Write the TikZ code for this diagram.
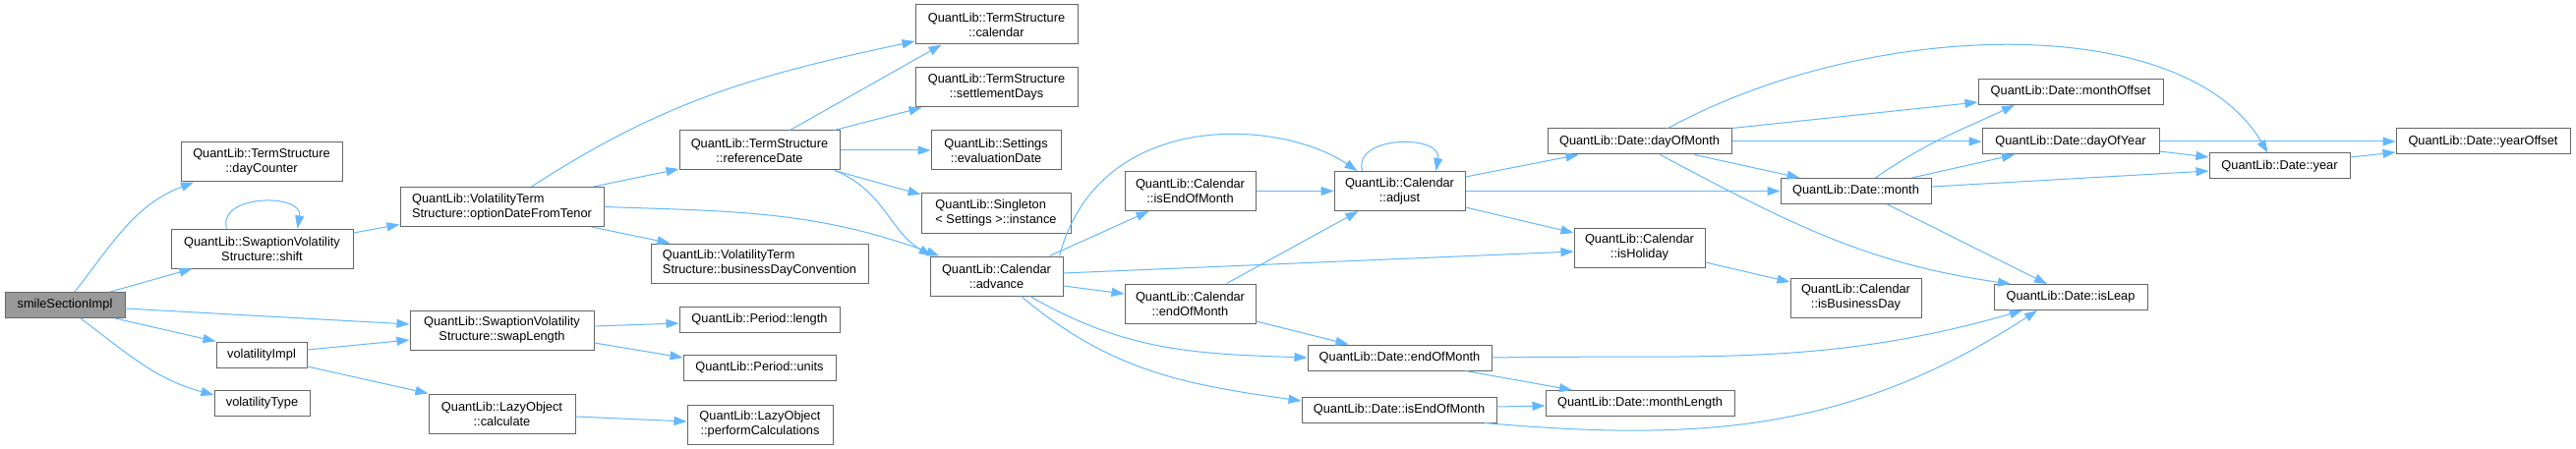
\documentclass[tikz,border=0pt]{standalone}
\usepackage{fontspec}
\setmainfont{Liberation Sans}
\usetikzlibrary{calc,arrows.meta}
\definecolor{callblue}{HTML}{63B8FF}
\definecolor{boxgray}{HTML}{666666}
\definecolor{rootgray}{HTML}{999999}

\begin{document}
\begin{tikzpicture}[x=1pt,y=-1pt,font=\fontsize{12.8}{15}\selectfont,
  fn/.style={draw=boxgray,fill=white,line width=1pt,inner sep=0pt,align=center,minimum height=40},
  fnone/.style={fn,minimum height=26},
  rootbox/.style={fnone,fill=rootgray},
  call/.style={draw=callblue,line width=1pt,-{Triangle[length=13pt,width=9pt]}}]
\fill[white] (0,0) rectangle (2620,457);
\useasboundingbox (0,0) rectangle (2620,457);
\node[rootbox,minimum width=122] (smile) at (66,310.5) {smileSectionImpl};
\node[fn,minimum width=164] (dayc) at (266,165) {QuantLib::TermStructure\\::dayCounter};
\node[fn,minimum width=185] (shift) at (266.5,253) {QuantLib::SwaptionVolatility\\Structure::shift};
\node[fnone,minimum width=92] (volimpl) at (266,361) {volatilityImpl};
\node[fnone,minimum width=97] (voltype) at (266.5,410) {volatilityType};
\node[fn,minimum width=207,align=left] (optdate) at (510.5,210.5) {QuantLib::VolatilityTerm\\Structure::optionDateFromTenor};
\node[fn,minimum width=187] (swaplen) at (510.5,336) {QuantLib::SwaptionVolatility\\Structure::swapLength};
\node[fn,minimum width=149] (calc) at (510.5,421) {QuantLib::LazyObject\\::calculate};
\node[fn,minimum width=163] (refdate) at (772.5,153) {QuantLib::TermStructure\\::referenceDate};
\node[fn,minimum width=221,align=left] (bdc) at (772.5,268) {QuantLib::VolatilityTerm\\Structure::businessDayConvention};
\node[fnone,minimum width=163] (plength) at (772.5,325.5) {QuantLib::Period::length};
\node[fnone,minimum width=155] (punits) at (772.5,374.5) {QuantLib::Period::units};
\node[fn,minimum width=148] (perfcalc) at (773,432) {QuantLib::LazyObject\\::performCalculations};
\node[fn,minimum width=165] (tscal) at (1013.5,25) {QuantLib::TermStructure\\::calendar};
\node[fn,minimum width=165] (settle) at (1013.5,89) {QuantLib::TermStructure\\::settlementDays};
\node[fn,minimum width=132] (evald) at (1013,153) {QuantLib::Settings\\::evaluationDate};
\node[fn,minimum width=152,align=left] (single) at (1013,217) {QuantLib::Singleton\\< Settings >::instance};
\node[fn,minimum width=135] (advance) at (1013.5,281) {QuantLib::Calendar\\::advance};
\node[fn,minimum width=133] (cisEOM) at (1210.5,194.5) {QuantLib::Calendar\\::isEndOfMonth};
\node[fn,minimum width=133] (adjust) at (1423.5,194.5) {QuantLib::Calendar\\::adjust};
\node[fn,minimum width=133] (cEOM) at (1210.5,309) {QuantLib::Calendar\\::endOfMonth};
\node[fnone,minimum width=187] (dEOM) at (1423.5,364) {QuantLib::Date::endOfMonth};
\node[fnone,minimum width=198] (disEOM) at (1423,417) {QuantLib::Date::isEndOfMonth};
\node[fnone,minimum width=187] (dom) at (1667.5,144) {QuantLib::Date::dayOfMonth};
\node[fn,minimum width=133] (hol) at (1667.5,252) {QuantLib::Calendar\\::isHoliday};
\node[fnone,minimum width=192] (mlen) at (1668,410.5) {QuantLib::Date::monthLength};
\node[fnone,minimum width=153] (month) at (1887.5,194.5) {QuantLib::Date::month};
\node[fn,minimum width=133] (busday) at (1887.5,303) {QuantLib::Calendar\\::isBusinessDay};
\node[fnone,minimum width=188] (moff) at (2106,93.5) {QuantLib::Date::monthOffset};
\node[fnone,minimum width=180] (doy) at (2106,144) {QuantLib::Date::dayOfYear};
\node[fnone,minimum width=156] (isleap) at (2106,302.5) {QuantLib::Date::isLeap};
\node[fnone,minimum width=143] (year) at (2318.5,169) {QuantLib::Date::year};
\node[fnone,minimum width=177] (yoff) at (2525.5,144) {QuantLib::Date::yearOffset};
\draw[call] ($(smile.north)+(10,0)$) to[out=52,in=201] ($(dayc.south)+(-69,0)$);
\draw[call] ($(smile.north)+(46,0)$) -- ($(shift.south)+(-71,0)$);
\draw[call] ($(smile.east)+(0,3.5)$) -- ($(swaplen.west)+(0,-6)$);
\draw[call] ($(smile.south)+(51,0)$) -- (volimpl.north west);
\draw[call] ($(smile.south)+(16,0)$) to[out=-37,in=165] ($(voltype.west)+(0,-8)$);
\draw[call] ($(shift.north)+(-36,0)$) to[out=105,in=80,looseness=1.3] ($(shift.north)+(36,0)$);
\draw[call] ($(shift.east)+(0,-16)$) -- ($(optdate.west)+(0,18)$);
\draw[call] ($(optdate.north)+(30,0)$) to[out=33,in=192] ($(tscal.west)+(0,17)$);
\draw[call] ($(optdate.north)+(93,0)$) -- ($(refdate.west)+(0,19)$);
\draw[call] (optdate.east) to[out=-2,in=160] ($(advance.north)+(-58,0)$);
\draw[call] ($(optdate.south)+(91,0)$) -- ($(bdc.north)+(-91,0)$);
\draw[call] ($(volimpl.east)+(0,-5)$) -- ($(swaplen.west)+(0,10)$);
\draw[call] ($(volimpl.east)+(0,12)$) -- (calc.north west);
\draw[call] ($(swaplen.east)+(0,-4)$) -- ($(plength.west)+(0,3.5)$);
\draw[call] ($(swaplen.east)+(0,13)$) -- ($(punits.west)+(0,-10.5)$);
\draw[call] ($(calc.east)+(0,3)$) -- ($(perfcalc.west)+(0,-3)$);
\draw[call] ($(refdate.north)+(31,0)$) -- ($(tscal.south)+(-56,0)$);
\draw[call] ($(refdate.north)+(76,0)$) -- ($(settle.south)+(-76,0)$);
\draw[call] (refdate) -- (evald);
\draw[call] ($(refdate.south)+(76,0)$) -- ($(single.west)+(0,-19)$);
\draw[call] ($(refdate.south)+(77,0)$) .. controls +(51,22) and +(-43,-25) .. ($(advance.north)+(-66,0)$);
\draw[call] ($(advance.north)+(64,0)$) .. controls +(40,-150) and +(-80,-54) .. ($(adjust.north)+(-43,0)$);
\draw[call] ($(advance.north)+(54,0)$) -- ($(cisEOM.south)+(-42,0)$);
\draw[call] ($(advance.east)+(0,-3)$) -- ($(hol.west)+(0,4)$);
\draw[call] ($(advance.east)+(0,10)$) -- ($(cEOM.west)+(0,-10)$);
\draw[call] ($(advance.south)+(34,0)$) to[out=-30,in=178] (dEOM.west);
\draw[call] ($(advance.south)+(25,0)$) to[out=-40,in=172] ($(disEOM.west)+(0,-9)$);
\draw[call] (cisEOM) -- (adjust);
\draw[call] ($(adjust.north)+(-38,0)$) to[out=105,in=80,looseness=1.3] ($(adjust.north)+(37,0)$);
\draw[call] ($(adjust.east)+(0,-14.5)$) -- ($(dom.south)+(-62,0)$);
\draw[call] (adjust) -- (month);
\draw[call] ($(adjust.east)+(0,16.5)$) -- ($(hol.west)+(0,-15)$);
\draw[call] ($(cEOM.north)+(37,0)$) -- ($(adjust.south)+(-42,0)$);
\draw[call] ($(cEOM.east)+(0,18)$) -- ($(dEOM.north)+(-52,0)$);
\draw[call] ($(dEOM.south)+(67,0)$) -- ($(mlen.north)+(-69,0)$);
\draw[call] (dEOM.east) to[out=1,in=196] ($(isleap.south)+(-49,0)$);
\draw[call] ($(disEOM.east)+(0,-3)$) -- ($(mlen.west)+(0,2.5)$);
\draw[call] ($(disEOM.south)+(87,0)$) to[out=-5,in=213] ($(isleap.south)+(-34,0)$);
\draw[call] ($(hol.east)+(0,15)$) -- ($(busday.west)+(0,-16)$);
\draw[call] ($(dom.north)+(29,0)$) .. controls +(203,-111) and +(-86,-146) .. ($(year.north)+(-12,0)$);
\draw[call] (dom.north east) -- ($(moff.west)+(0,10.5)$);
\draw[call] (dom) -- (doy);
\draw[call] ($(dom.south)+(56,0)$) -- ($(month.north)+(-57,0)$);
\draw[call] ($(dom.south)+(21,0)$) to[out=-28,in=172] ($(isleap.north)+(-61,0)$);
\draw[call] ($(month.north)+(20,0)$) to[out=35,in=205] ($(moff.south)+(-57,0)$);
\draw[call] ($(month.north)+(57,0)$) -- ($(doy.south)+(-57,0)$);
\draw[call] ($(month.east)+(0,-4.5)$) -- ($(year.west)+(0,5)$);
\draw[call] ($(month.south)+(32,0)$) -- ($(isleap.north)+(-24,0)$);
\draw[call] (doy) -- (yoff);
\draw[call] ($(doy.east)+(0,10)$) -- ($(year.west)+(0,-9)$);
\draw[call] ($(year.east)+(0,-9)$) -- ($(yoff.west)+(0,11)$);
\end{tikzpicture}
\end{document}
